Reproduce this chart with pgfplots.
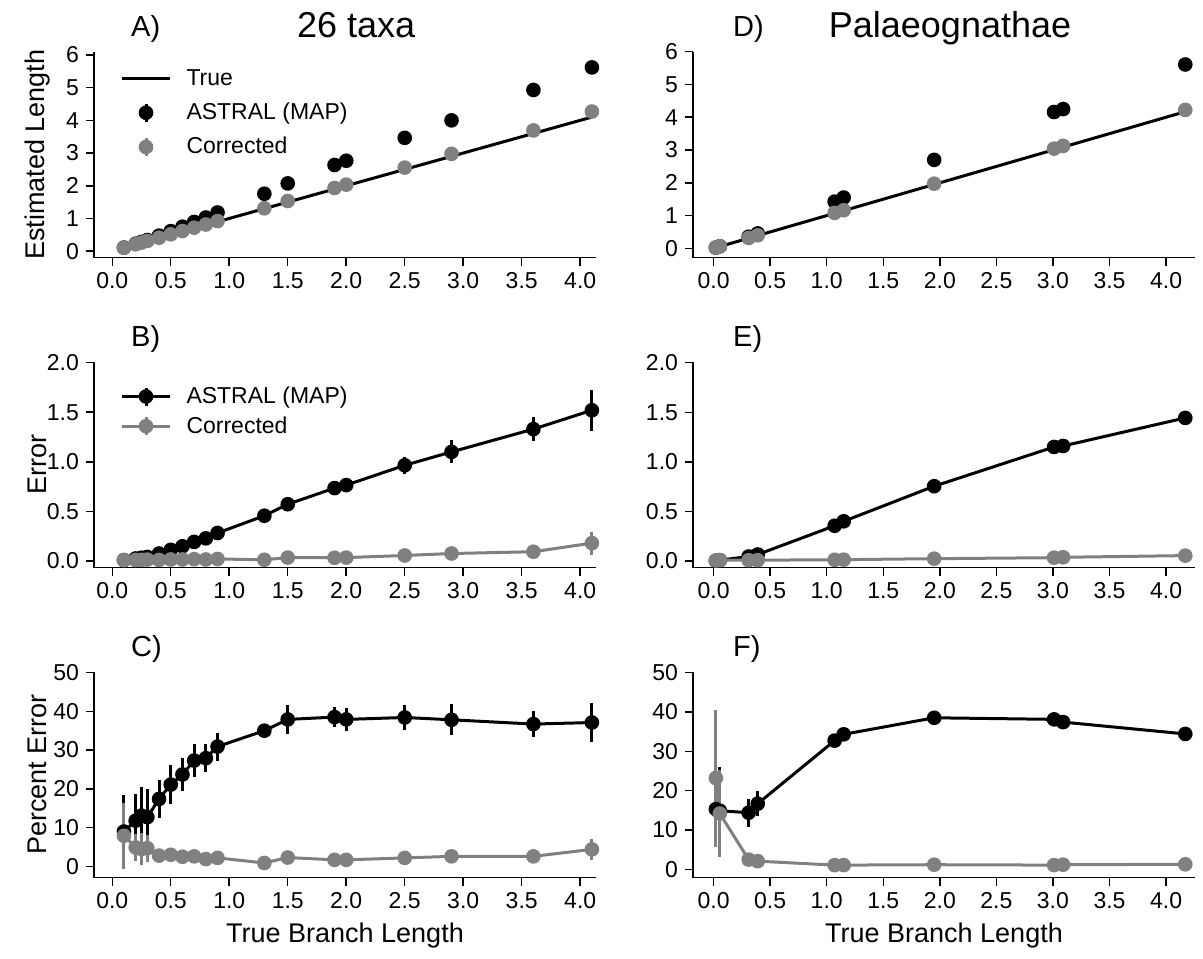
\documentclass[border=0pt]{standalone}
\usepackage{fontspec}
\setmainfont{Liberation Sans}
\usepackage{pgfplots}
\usepackage{pgfplotstable}
\pgfplotsset{compat=1.18}
\usepgfplotslibrary{groupplots}
\usetikzlibrary{calc}

\definecolor{corr}{RGB}{128,128,128}

% 26 taxa: estimates, errors and percent errors (value, half-width of bar)
\pgfplotstableread{
x    aest  aeste cest  ceste aerr  aerre cerr  cerre apct apcte cpct cpcte
0.1  0.109 0.01  0.108 0.01  0.009 0.009 0.008 0.008 9.0  9.3   7.9  8.5
0.2  0.225 0.01  0.210 0.01  0.025 0.014 0.010 0.007 11.8 7.0   4.9  3.5
0.25 0.283 0.01  0.261 0.01  0.033 0.019 0.011 0.010 13.1 7.5   4.5  4.0
0.3  0.340 0.01  0.314 0.01  0.040 0.022 0.014 0.010 12.7 7.3   4.7  3.5
0.4  0.475 0.02  0.411 0.01  0.075 0.020 0.011 0.007 17.4 5.0   2.8  1.8
0.5  0.612 0.02  0.515 0.01  0.112 0.025 0.015 0.009 21.1 5.0   3.0  1.8
0.6  0.748 0.03  0.615 0.01  0.148 0.026 0.015 0.008 23.7 4.3   2.5  1.3
0.7  0.892 0.03  0.718 0.01  0.192 0.030 0.018 0.009 27.3 4.3   2.6  1.3
0.8  1.028 0.03  0.815 0.01  0.228 0.029 0.015 0.010 27.9 3.6   1.9  1.2
0.9  1.182 0.03  0.920 0.01  0.282 0.032 0.020 0.007 30.9 3.6   2.2  0.8
1.3  1.756 0.02  1.312 0.01  0.456 0.020 0.012 0.007 35.0 1.5   0.9  0.5
1.5  2.072 0.06  1.534 0.02  0.572 0.057 0.034 0.022 37.9 3.8   2.3  1.5
1.9  2.635 0.05  1.932 0.01  0.735 0.050 0.032 0.011 38.5 2.6   1.7  0.6
2.0  2.765 0.06  2.034 0.01  0.765 0.060 0.034 0.012 37.9 3.0   1.7  0.6
2.5  3.465 0.08  2.555 0.02  0.965 0.083 0.055 0.020 38.4 3.3   2.2  0.8
2.9  4.000 0.11  2.975 0.03  1.100 0.116 0.075 0.030 37.8 4.0   2.6  1.0
3.6  4.930 0.12  3.693 0.04  1.330 0.122 0.093 0.036 36.7 3.4   2.6  1.0
4.1  5.620 0.20  4.270 0.11  1.520 0.205 0.180 0.115 37.1 5.0   4.4  2.8
}\taxa

% Palaeognathae
\pgfplotstableread{
x     aest  aeste cest  ceste aerr  aerre cerr  cerre apct apcte cpct cpcte
0.02  0.023 0.003 0.025 0.004 0.003 0.001 0.005 0.004 15.3 2.0   23.2 17.4
0.055 0.063 0.006 0.063 0.006 0.008 0.006 0.008 0.006 14.9 11.2  14.2 11.0
0.31  0.355 0.010 0.318 0.003 0.045 0.011 0.008 0.003 14.4 3.6   2.5  0.8
0.39  0.455 0.010 0.398 0.003 0.065 0.012 0.008 0.002 16.7 3.2   2.1  0.5
1.07  1.425 0.020 1.082 0.003 0.355 0.019 0.012 0.003 32.7 1.8   1.1  0.3
1.15  1.550 0.015 1.163 0.003 0.400 0.015 0.013 0.003 34.3 1.3   1.1  0.3
1.95  2.700 0.030 1.973 0.005 0.754 0.029 0.023 0.005 38.5 1.5   1.2  0.3
3.01  4.160 0.030 3.043 0.006 1.150 0.030 0.033 0.006 38.1 1.0   1.1  0.2
3.09  4.250 0.040 3.127 0.007 1.160 0.040 0.037 0.007 37.4 1.3   1.2  0.2
4.17  5.610 0.067 4.224 0.008 1.443 0.067 0.054 0.008 34.4 1.6   1.3  0.2
}\palaeo

\pgfplotsset{
  astral/.style={black, line width=1.5pt, mark=*, mark size=2.9pt,
    mark options={draw=none, fill=black},
    error bars/y dir=both, error bars/y explicit, error bars/error mark=none,
    error bars/error bar style={line width=1.5pt, black}},
  corrected/.style={corr, line width=1.5pt, mark=*, mark size=2.9pt,
    mark options={draw=none, fill=corr},
    error bars/y dir=both, error bars/y explicit, error bars/error mark=none,
    error bars/error bar style={line width=1.5pt, corr}},
  ptlegend/.style={legend image code/.code={
    \draw[#1, line width=1.5pt] (12pt,-4.5pt) -- (12pt,4.5pt);
    \fill[#1] (12pt,0pt) circle (2.9pt);}},
  linelegend/.style={legend image code/.code={
    \draw[#1, line width=1.5pt] (0pt,0pt) -- (24pt,0pt);
    \draw[#1, line width=1.5pt] (12pt,-4.5pt) -- (12pt,4.5pt);
    \fill[#1] (12pt,0pt) circle (2.9pt);}},
  mylegend/.style={legend style={at={(axis description cs:0.052,0.935)},
    anchor=north west, draw=none, fill=none, inner sep=0pt,
    font=\fontsize{11.5}{13}\selectfont, row sep=3.3pt,
    /tikz/every odd column/.append style={column sep=5.5pt}},
    legend cell align=left},
}
\tikzset{letter/.style={anchor=base west, font=\fontsize{14.5}{17}\selectfont},
  ttl/.style={anchor=base, font=\fontsize{18}{21}\selectfont}}

\begin{document}
\begin{tikzpicture}
\begin{groupplot}[
  group style={group size=2 by 3, horizontal sep=48.5pt, vertical sep=52pt},
  scale only axis, width=251pt, height=103pt,
  axis lines=left, axis line style={-, line width=0.75pt},
  tick align=outside, major tick length=4pt,
  tick style={line width=0.75pt, black},
  xtick={0,0.5,1,1.5,2,2.5,3,3.5,4},
  xticklabel style={/pgf/number format/.cd, fixed, fixed zerofill, precision=1},
  tick label style={font=\fontsize{11.5}{13}\selectfont},
  /pgf/number format/assume math mode=true,
  every axis y label/.style={at={(axis description cs:-0.112,0.5)}, rotate=90,
    anchor=center, font=\fontsize{13.5}{16}\selectfont},
  every axis x label/.style={at={(axis description cs:0.5,-0.28)}, anchor=center,
    font=\fontsize{13.5}{16}\selectfont},
  clip=false,
]
% A) 26 taxa, estimated length
\nextgroupplot[xmin=-0.156, xmax=4.135, ymin=-0.2, ymax=6.1, ytick={0,1,2,3,4,5,6},
  ylabel={Estimated Length}, mylegend]
\addplot[black, line width=1.5pt, no marks,
  legend image code/.code={\draw[black, line width=1.5pt] (0pt,0pt) -- (24pt,0pt);}]
  coordinates {(0.1,0.1) (4.1,4.1)};
\addlegendentry{True}
\addplot[astral, only marks, ptlegend=black] table[x=x, y=aest, y error=aeste] {\taxa};
\addlegendentry{ASTRAL (MAP)}
\addplot[corrected, only marks, ptlegend=corr] table[x=x, y=cest, y error=ceste] {\taxa};
\addlegendentry{Corrected}
\node[letter] at (rel axis cs:0.06,1.076) {A)};
\node[ttl] at (rel axis cs:0.522,1.07) {26 taxa};

% D) Palaeognathae, estimated length
\nextgroupplot[xmin=-0.182, xmax=4.256, ymin=-0.285, ymax=6.0, ytick={0,1,2,3,4,5,6}]
\addplot[black, line width=1.5pt, no marks] coordinates {(0.02,0.02) (4.17,4.17)};
\addplot[astral, only marks] table[x=x, y=aest, y error=aeste] {\palaeo};
\addplot[corrected, only marks] table[x=x, y=cest, y error=ceste] {\palaeo};
\node[letter] at (rel axis cs:0.066,1.076) {D)};
\node[ttl] at (rel axis cs:0.512,1.07) {Palaeognathae};

% B) 26 taxa, error
\nextgroupplot[xmin=-0.156, xmax=4.135, ymin=-0.068, ymax=2.01, ytick={0,0.5,1,1.5,2},
  yticklabel style={/pgf/number format/.cd, fixed, fixed zerofill, precision=1},
  ylabel={Error}, mylegend, legend style={at={(axis description cs:0.052,0.90)}, row sep=1pt}]
\addplot[astral, linelegend=black] table[x=x, y=aerr, y error=aerre] {\taxa};
\addlegendentry{ASTRAL (MAP)}
\addplot[corrected, linelegend=corr] table[x=x, y=cerr, y error=cerre] {\taxa};
\addlegendentry{Corrected}
\node[letter] at (rel axis cs:0.06,1.076) {B)};

% E) Palaeognathae, error
\nextgroupplot[xmin=-0.182, xmax=4.256, ymin=-0.068, ymax=2.01, ytick={0,0.5,1,1.5,2},
  yticklabel style={/pgf/number format/.cd, fixed, fixed zerofill, precision=1}]
\addplot[astral] table[x=x, y=aerr, y error=aerre] {\palaeo};
\addplot[corrected] table[x=x, y=cerr, y error=cerre] {\palaeo};
\node[letter] at (rel axis cs:0.066,1.076) {E)};

% C) 26 taxa, percent error
\nextgroupplot[xmin=-0.156, xmax=4.135, ymin=-2.9, ymax=50.2, ytick={0,10,20,30,40,50},
  ylabel={Percent Error}, xlabel={True Branch Length}]
\addplot[astral] table[x=x, y=apct, y error=apcte] {\taxa};
\addplot[corrected] table[x=x, y=cpct, y error=cpcte] {\taxa};
\node[letter] at (rel axis cs:0.06,1.076) {C)};

% F) Palaeognathae, percent error
\nextgroupplot[xmin=-0.182, xmax=4.256, ymin=-2.1, ymax=50.2, ytick={0,10,20,30,40,50},
  xlabel={True Branch Length}]
\addplot[astral] table[x=x, y=apct, y error=apcte] {\palaeo};
\addplot[corrected] table[x=x, y=cpct, y error=cpcte] {\palaeo};
\node[letter] at (rel axis cs:0.066,1.076) {F)};
\end{groupplot}
\pgfresetboundingbox
\path[use as bounding box] ($(group c1r1.north west)+(-47pt,25.85pt)$) rectangle ++(601.5pt,-479pt);
\end{tikzpicture}
\end{document}
